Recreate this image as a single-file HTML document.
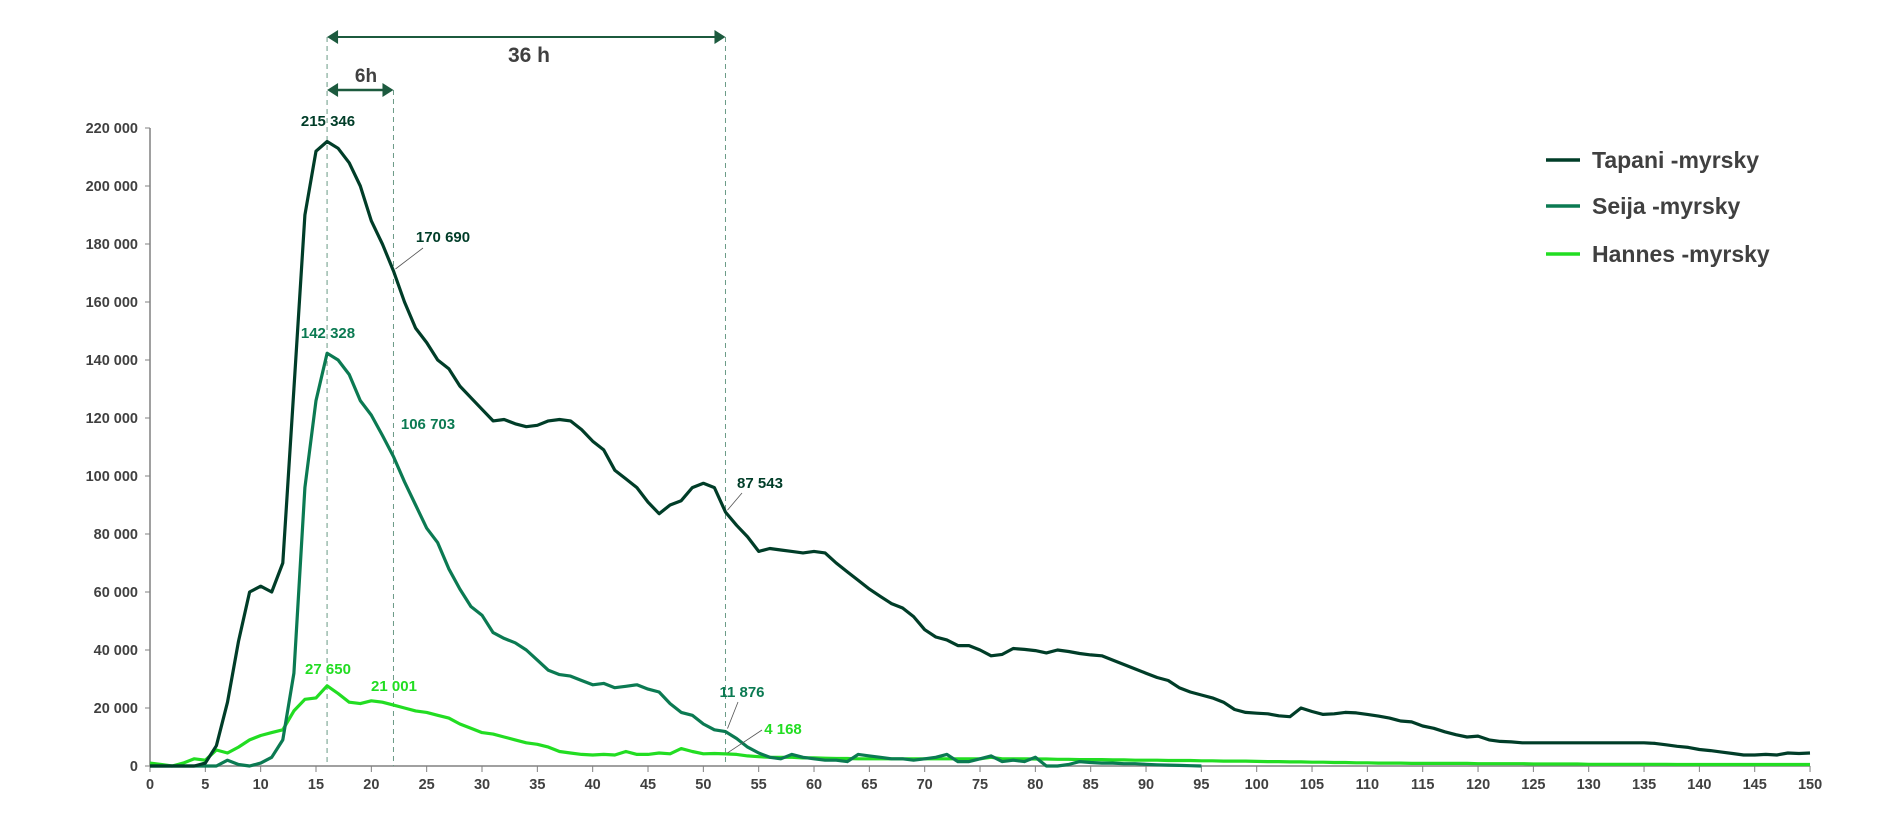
<!DOCTYPE html>
<html><head><meta charset="utf-8"><style>
html,body{margin:0;padding:0;background:#fff;}
svg{display:block;font-family:"Liberation Sans",Arial,sans-serif;font-weight:bold;}
</style></head><body>
<svg id="c" width="1900" height="820" viewBox="0 0 1900 820" xmlns="http://www.w3.org/2000/svg"></svg>
<script>
const X0=150,XS=11.067,Y0=766,YS=638/220000;
const X=h=>X0+h*XS, Y=v=>Y0-v*YS;
const T=[0,0,0,0,0,1000,7000,22000,43000,60000,62000,60000,70000,130000,190000,212000,215346,213000,208000,200000,188000,180000,170690,160000,151000,146000,140000,137000,131000,127000,123000,119000,119500,118000,117000,117500,119000,119500,119000,116000,112000,109000,102000,99000,96000,91000,87000,90000,91500,96000,97500,96000,87543,83000,79000,74000,75000,74500,74000,73500,74000,73500,70000,67000,64000,61000,58500,56000,54500,51500,47000,44500,43500,41500,41500,40000,38000,38500,40500,40200,39800,39000,40000,39500,38800,38300,38000,36500,35000,33500,32000,30500,29500,27000,25500,24500,23500,22000,19500,18500,18200,18000,17300,17000,20000,18800,17800,18000,18500,18300,17800,17200,16500,15500,15200,13800,13000,11800,10800,10000,10300,9000,8500,8300,8000,8000,8000,8000,8000,8000,8000,8000,8000,8000,8000,8000,7800,7300,6800,6400,5700,5300,4800,4300,3800,3800,4000,3800,4500,4300,4500];
const S=[0,0,0,0,0,0,0,2000,500,0,1000,3000,9000,32000,96000,126000,142328,140000,135000,126000,121000,114000,106703,98000,90000,82000,77000,68000,61000,55000,52000,46000,44000,42500,40000,36500,33000,31500,31000,29500,28000,28500,27000,27500,28000,26500,25500,21500,18500,17500,14500,12500,11876,9500,6500,4500,3000,2500,4000,3000,2500,2000,2000,1500,4000,3500,3000,2500,2500,2000,2500,3000,4000,1500,1500,2500,3500,1500,2000,1500,3000,0,0,500,1500,1200,1000,1000,800,800,600,400,300,200,100,0];
const H=[1000,500,0,1000,2500,2000,5500,4500,6500,9000,10500,11500,12500,19000,23000,23500,27650,25000,22000,21500,22500,22000,21001,20000,19000,18500,17500,16500,14500,13000,11500,11000,10000,9000,8000,7500,6500,5000,4500,4000,3800,4000,3800,5000,4000,4000,4500,4200,6000,5000,4200,4300,4168,4000,3500,3200,3000,3000,3000,2800,2800,2700,2600,2600,2500,2500,2500,2500,2500,2500,2500,2500,2500,2500,2500,2500,3000,2500,2500,2500,2400,2400,2300,2300,2200,2200,2200,2100,2100,2000,2000,2000,1900,1900,1900,1800,1800,1700,1700,1700,1600,1500,1500,1400,1400,1300,1300,1200,1200,1100,1100,1000,1000,1000,900,900,900,900,900,900,800,800,800,800,800,700,700,700,700,700,600,600,600,600,600,600,600,600,500,500,500,500,500,500,500,500,500,500,500,500,500];
let s='';
const C1='#003d28',C2='#0b7a52',C3='#22dd22',G='#404040';
// axes
s+=`<line x1="${X0}" y1="${Y(0)}" x2="${X(150)}" y2="${Y(0)}" stroke="#808080" stroke-width="1.5"/>`;
s+=`<line x1="${X0}" y1="${Y(0)}" x2="${X0}" y2="${Y(220000)}" stroke="#808080" stroke-width="1.5"/>`;
for(let v=0;v<=220000;v+=20000){const y=Y(v);s+=`<line x1="${X0-5}" x2="${X0}" y1="${y}" y2="${y}" stroke="#808080"/>`;
s+=`<text x="${X0-12}" y="${y+5}" text-anchor="end" font-size="14.5" fill="${G}">${v==0?'0':(v/1000)+' 000'}</text>`;}
for(let h=0;h<=150;h+=5){const x=X(h);s+=`<line x1="${x}" x2="${x}" y1="${Y0}" y2="${Y0+6}" stroke="#808080"/>`;
s+=`<text x="${x}" y="${Y0+23}" text-anchor="middle" font-size="14.5" fill="${G}">${h}</text>`;}
// dashed guides
[16,22,52].forEach(h=>{s+=`<line x1="${X(h)}" x2="${X(h)}" y1="${h==22?90:37}" y2="${Y0}" stroke="#6a9a86" stroke-dasharray="5,4" stroke-width="1"/>`;});
// arrows
function arr(x1,x2,y,c,w){return `<line x1="${x1+8}" x2="${x2-8}" y1="${y}" y2="${y}" stroke="${c}" stroke-width="${w}"/><polygon points="${x1},${y} ${x1+11},${y-7} ${x1+11},${y+7}" fill="${c}"/><polygon points="${x2},${y} ${x2-11},${y-7} ${x2-11},${y+7}" fill="${c}"/>`;}
s+=arr(X(16),X(52),37,'#1c5a3e',2);
s+=arr(X(16),X(22),90,'#1c5a3e',2.5);
s+=`<text x="529" y="62" text-anchor="middle" font-size="21" fill="${G}">36 h</text>`;
s+=`<text x="366" y="82" text-anchor="middle" font-size="19" fill="${G}">6h</text>`;
// series
function path(d,c){return `<polyline fill="none" stroke="${c}" stroke-width="3.2" stroke-linejoin="round" points="${d.map((v,i)=>X(i).toFixed(1)+','+Y(v).toFixed(1)).join(' ')}"/>`;}
s+=path(H,C3);s+=path(S,C2);s+=path(T,C1);
// labels
function lab(x,y,t,c){return `<text x="${x}" y="${y}" text-anchor="middle" font-size="15" fill="${c}">${t}</text>`;}
s+=lab(328,126,'215 346',C1);
s+=lab(443,242,'170 690',C1);s+=`<line x1="${X(22)+2}" y1="${Y(170690)-2}" x2="423" y2="248" stroke="#555" stroke-width="0.8"/>`;
s+=lab(328,338,'142 328',C2);
s+=lab(428,429,'106 703',C2);
s+=lab(760,488,'87 543',C1);s+=`<line x1="${X(52)+2}" y1="${Y(87543)-2}" x2="742" y2="493" stroke="#555" stroke-width="0.8"/>`;
s+=lab(328,674,'27 650',C3);
s+=lab(394,691,'21 001',C3);
s+=lab(742,697,'11 876',C2);s+=`<line x1="${X(52)+2}" y1="${Y(11876)-3}" x2="738" y2="702" stroke="#555" stroke-width="0.8"/>`;
s+=lab(783,734,'4 168',C3);s+=`<line x1="${X(52)+2}" y1="${Y(4168)-1}" x2="762" y2="730" stroke="#555" stroke-width="0.8"/>`;
// legend
[['Tapani -myrsky',C1,160],['Seija -myrsky',C2,206],['Hannes -myrsky',C3,254]].forEach(([t,c,y])=>{
s+=`<line x1="1546" x2="1580" y1="${y}" y2="${y}" stroke="${c}" stroke-width="3.5"/>`;
s+=`<text x="1592" y="${y+8}" font-size="23" fill="${G}">${t}</text>`;});
document.getElementById('c').innerHTML=s;
</script>
</body></html>
